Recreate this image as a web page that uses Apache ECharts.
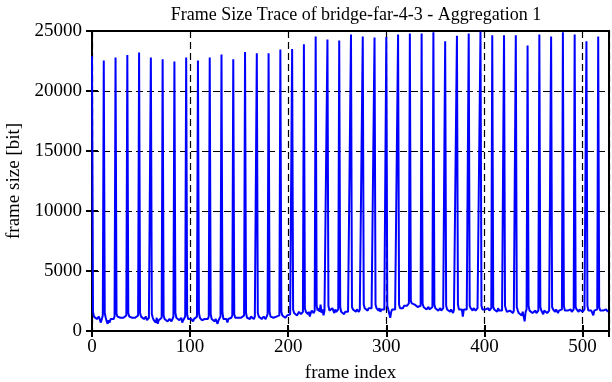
<!DOCTYPE html>
<html>
<head>
<meta charset="utf-8">
<script src="https://cdn.jsdelivr.net/npm/echarts@6/dist/echarts.min.js"></script>
<style>html,body{margin:0;padding:0;background:#fff}#c{width:612px;height:382px}</style>
</head>
<body>
<div id="c"></div>
<script>
const titleText = 'Frame Size Trace of bridge-far-4-3 - Aggregation 1';
const xName = 'frame index';
const yName = 'frame size [bit]';
const xTicks = [0, 100, 200, 300, 400, 500];
const yTicks = [0, 5000, 10000, 15000, 20000, 25000];
const gopLength = 12;

// I-frame sizes (one per GOP, frames 0, 12, 24, ...)
const iFrames = [22900, 22550, 22800, 23000, 23200, 22800, 22650, 22450, 22800, 22550,
  22800, 23050, 22650, 23250, 23150, 23150, 23450, 23500, 23900, 24550,
  24300, 24200, 24700, 24550, 24450, 24500, 24700, 24800, 24800, 24900,
  24150, 24600, 24800, 24950, 24650, 24650, 24650, 23800, 24700, 24550,
  24900, 24700, 24150, 24550];

// Remaining frames of each GOP (P/B frames)
const pbFrames = [
  [1600, 1200, 1100, 1300, 1000, 900, 1200, 1100, 700, 1000, 1300],
  [1500, 1100, 800, 600, 900, 700, 1000, 900, 1100, 1000, 1200],
  [1400, 1200, 1100, 1300, 1100, 1000, 1200, 1100, 1000, 1100, 1300],
  [1500, 1200, 1100, 1200, 1100, 1100, 1000, 1100, 1200, 1100, 1300],
  [1500, 1200, 1100, 1300, 1000, 1100, 1200, 900, 1000, 1100, 1200],
  [1400, 1100, 900, 1000, 700, 1100, 600, 900, 1000, 800, 1100],
  [1300, 1000, 900, 1000, 800, 900, 1000, 1100, 800, 1000, 1200],
  [1500, 1100, 1000, 1200, 900, 1000, 1100, 700, 900, 1000, 1200],
  [1400, 1000, 1100, 900, 1000, 1100, 800, 1000, 1100, 1000, 1200],
  [1500, 1100, 1000, 900, 1000, 800, 1000, 1100, 900, 1000, 1200],
  [1400, 1000, 900, 1100, 800, 1000, 1100, 600, 900, 1000, 1200],
  [1500, 1000, 1100, 900, 1000, 700, 1000, 1100, 900, 1100, 1300],
  [1400, 1100, 1200, 1000, 1100, 1200, 1000, 1100, 1200, 1100, 1300],
  [1500, 1100, 1200, 1100, 1000, 1200, 1100, 1200, 1000, 1200, 1300],
  [1500, 1200, 1100, 1200, 1000, 1100, 1200, 1100, 1000, 1200, 1400],
  [1600, 1200, 1100, 1300, 1100, 1200, 1000, 1200, 1300, 1200, 1300],
  [1600, 1300, 1200, 1300, 1100, 1200, 1300, 1400, 1200, 1400, 1500],
  [1800, 1500, 1400, 1500, 1300, 1400, 1600, 1500, 1400, 1500, 1600],
  [1900, 1600, 1500, 1400, 1600, 1200, 1500, 1700, 1600, 1500, 1700],
  [2100, 1700, 1900, 1600, 2200, 1500, 1800, 1300, 1700, 1600, 1800],
  [2100, 1700, 1800, 1600, 1900, 1700, 1500, 1800, 1600, 1700, 1800],
  [2000, 1600, 1500, 1700, 1400, 1600, 1500, 1700, 1600, 1500, 1700],
  [2000, 1800, 1700, 1900, 1600, 1800, 1700, 1600, 1800, 1700, 1900],
  [2200, 1900, 1800, 2000, 1700, 1900, 1800, 2000, 1900, 1800, 2000],
  [2200, 1900, 1800, 1700, 1900, 1600, 1800, 1900, 1700, 1800, 1900],
  [2100, 1800, 1700, 1100, 1600, 1800, 1700, 1900, 1800, 1700, 1900],
  [2200, 1900, 1800, 2000, 1900, 2100, 2000, 2200, 2100, 2200, 2300],
  [2500, 2300, 2200, 2300, 2200, 2100, 2200, 2000, 2100, 2000, 2100],
  [2300, 2000, 1900, 2000, 1800, 1900, 2000, 1800, 1900, 1800, 2000],
  [2200, 1900, 1800, 1900, 1700, 1800, 1900, 1700, 1800, 1900, 2000],
  [2100, 1800, 1700, 1900, 1600, 1800, 1700, 1500, 1800, 1700, 1900],
  [2200, 1800, 1900, 1700, 1800, 1200, 1800, 1900, 1700, 1800, 1900],
  [2100, 1900, 1800, 1700, 1900, 1800, 1700, 1800, 1900, 1800, 1900],
  [2100, 1800, 1700, 1900, 1800, 1700, 1800, 1900, 1700, 1800, 1900],
  [2000, 1800, 1700, 1800, 1600, 1900, 1700, 1800, 1600, 1700, 1800],
  [2100, 1800, 1600, 1700, 1500, 1700, 1800, 1600, 1500, 1700, 1800],
  [2000, 1700, 1500, 1600, 1400, 1300, 1600, 1500, 800, 1600, 1800],
  [2100, 1700, 1600, 1700, 1500, 1400, 1600, 1700, 1500, 1600, 1700],
  [2000, 1700, 1600, 1400, 1700, 1600, 1700, 1500, 1600, 1700, 1800],
  [2000, 1800, 1700, 1600, 1800, 1700, 1500, 1700, 1600, 1700, 1800],
  [2100, 1700, 1600, 1800, 1700, 1600, 1700, 1800, 1600, 1700, 1800],
  [2000, 1800, 1700, 1600, 1800, 1700, 1800, 1600, 1700, 1800, 1900],
  [2100, 1700, 1600, 1800, 1700, 1600, 1300, 1700, 1600, 1700, 1800],
  [2000, 1700, 1600, 1800, 1700, 1600, 1700, 1800, 1700, 1600]
];

const seriesData = [];
iFrames.forEach(function (iv, g) {
  seriesData.push([g * gopLength, iv]);
  (pbFrames[g] || []).forEach(function (v, k) {
    seriesData.push([g * gopLength + k + 1, v]);
  });
});

const font = '"Liberation Serif", "DejaVu Serif", serif';
const chart = echarts.init(document.getElementById('c'), null, { renderer: 'canvas' });
const dash = [7, 4];
chart.setOption({
  animation: false,
  title: {
    text: titleText, left: 351, textAlign: 'center', top: 1,
    textStyle: { fontFamily: font, fontSize: 18, fontWeight: 'normal', color: '#000' }
  },
  grid: { left: 92, right: 3, top: 31, bottom: 51, show: true, borderColor: '#000', borderWidth: 2,
    backgroundColor: 'transparent', containLabel: false, outerBoundsMode: 'none' },
  xAxis: [{
    type: 'value', min: 0, max: 527, interval: 100,
    name: xName, nameLocation: 'middle', nameGap: 33,
    nameTextStyle: { fontFamily: font, fontSize: 19, color: '#000' },
    axisLine: { show: true, lineStyle: { color: '#000', width: 2 } },
    axisTick: { show: true, inside: true, length: 6, lineStyle: { color: '#000', width: 2 } },
    axisLabel: { fontFamily: font, fontSize: 19, color: '#000', margin: 7,
      formatter: function (v) { return xTicks.indexOf(v) >= 0 ? String(v) : ''; } },
    splitLine: { show: true, lineStyle: { color: '#000', type: dash, width: 1.2 } }
  }, {
    type: 'value', position: 'top', min: 0, max: 527, interval: 100,
    axisLine: { show: false }, axisLabel: { show: false }, splitLine: { show: false },
    axisTick: { show: true, inside: true, length: 6, lineStyle: { color: '#000', width: 2 } }
  }],
  yAxis: [{
    type: 'value', min: 0, max: 25000, interval: 5000,
    name: yName, nameLocation: 'middle', nameGap: 64, nameRotate: 90,
    nameTextStyle: { fontFamily: font, fontSize: 19, color: '#000' },
    axisLine: { show: true, lineStyle: { color: '#000', width: 2 } },
    axisTick: { show: true, inside: true, length: 6, lineStyle: { color: '#000', width: 2 } },
    axisLabel: { fontFamily: font, fontSize: 19, color: '#000', margin: 10,
      formatter: function (v) { return yTicks.indexOf(v) >= 0 ? String(v) : ''; } },
    splitLine: { show: true, lineStyle: { color: '#000', type: dash, width: 1.2 } }
  }, {
    type: 'value', position: 'right', min: 0, max: 25000, interval: 5000,
    axisLine: { show: false }, axisLabel: { show: false }, splitLine: { show: false },
    axisTick: { show: true, inside: true, length: 6, lineStyle: { color: '#000', width: 2 } }
  }],
  series: [{
    type: 'line', data: seriesData, showSymbol: false, symbol: 'none',
    sampling: null, clip: true,
    lineStyle: { color: '#0000ff', width: 2 },
    z: 3
  }]
});
</script>
</body>
</html>
